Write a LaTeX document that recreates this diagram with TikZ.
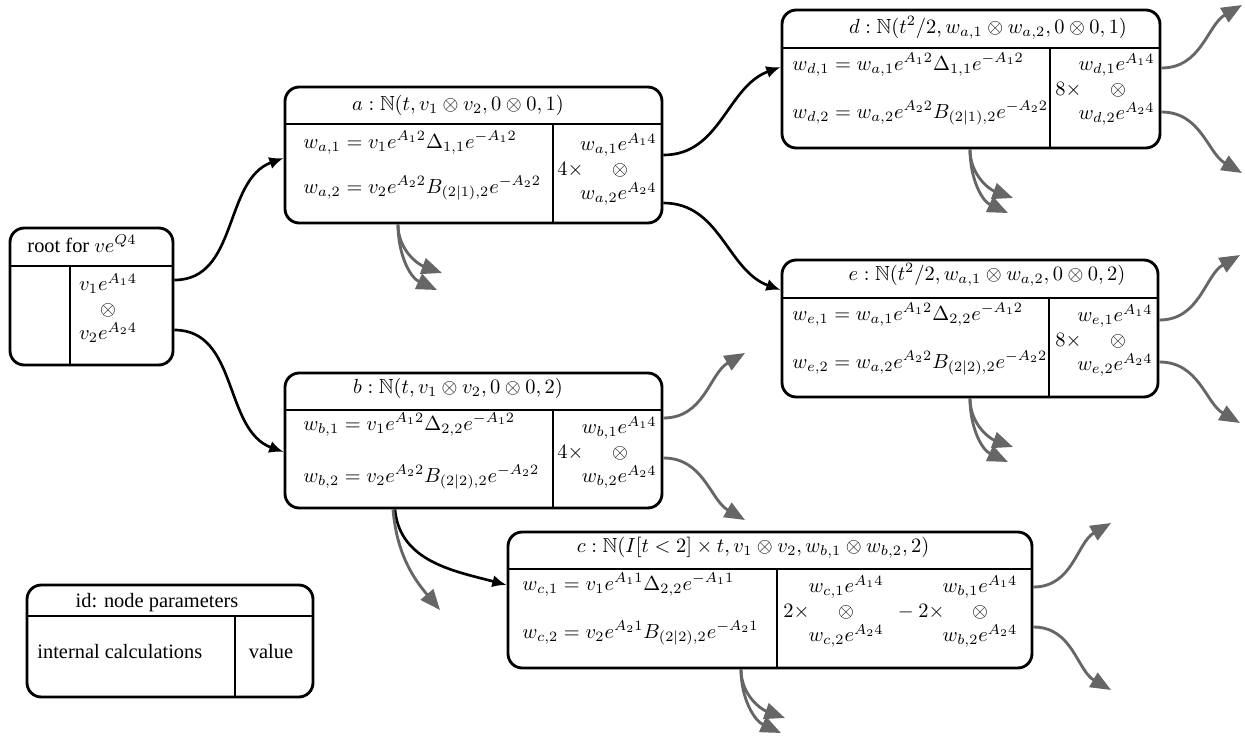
\documentclass[tikz,border=0pt]{standalone}
\usepackage[no-math]{fontspec}
\setmainfont{Liberation Serif}
\usepackage{amssymb}
\usetikzlibrary{arrows.meta,fit,calc}
\begin{document}
\begin{tikzpicture}[x=0.49pt,y=-0.49pt,
  box/.style={draw, line width=1.4pt, rounded corners=7pt, inner sep=0pt},
  div/.style={line width=0.5pt},
  txt/.style={inner sep=0pt, font=\fontsize{10}{12}\selectfont},
  tb/.style={txt, anchor=base},
  tbw/.style={txt, anchor=base west},
  tbe/.style={txt, anchor=base east},
  link/.style={line width=1.3pt, -{Latex[length=7pt,width=6pt]}},
  sublink/.style={line width=1.4pt, draw=black!60, -{Triangle[length=10pt,width=8pt]}, color=black!60}
]
\useasboundingbox (0,0) rectangle (1245,740);

% ---------- root ----------
\node[box, fit={(10,228)(173,365)}] (root) {};
\draw[div] (root.west |- 0,266) -- (root.east |- 0,266);
\draw[div] (70,266) -- (root.south -| 70,0);
\node[tb] (roott) at (82,252) {root for $ve^{Q4}$};
\node[tb] (rootv1) at (108,290.5) {$v_1e^{A_14}$};
\node[tb] (rootvo) at (108,315) {$\otimes$};
\node[tb] (rootv2) at (108,339.5) {$v_2e^{A_24}$};

% ---------- a ----------
\node[box, fit={(285,87)(662,223)}] (a) {};
\draw[div] (a.west |- 0,124) -- (a.east |- 0,124);
\draw[div] (553,124) -- (a.south -| 553,0);
\node[tb] (at) at (458,110) {$a:\mathbb{N}(t,v_1\otimes v_2,0\otimes 0,1)$};
\node[tbw] (ar1) at (303,148) {$w_{a,1}=v_1e^{A_12}\Delta_{1,1}e^{-A_12}$};
\node[tbw] (ar2) at (303,193) {$w_{a,2}=v_2e^{A_22}B_{(2|1),2}e^{-A_22}$};
\node[tbw] (ak) at (557,175) {$4\times$};
\node[tbe] (av1) at (657,150.5) {$w_{a,1}e^{A_14}$};
\node[tb] (avo) at (620,175) {$\otimes$};
\node[tbe] (av2) at (657,199.5) {$w_{a,2}e^{A_24}$};

% ---------- b ----------
\node[box, fit={(285,373)(662,508)}] (b) {};
\draw[div] (b.west |- 0,410) -- (b.east |- 0,410);
\draw[div] (553,410) -- (b.south -| 553,0);
\node[tb] (bt) at (458,393) {$b:\mathbb{N}(t,v_1\otimes v_2,0\otimes 0,2)$};
\node[tbw] (br1) at (303,430) {$w_{b,1}=v_1e^{A_12}\Delta_{2,2}e^{-A_12}$};
\node[tbw] (br2) at (303,482) {$w_{b,2}=v_2e^{A_22}B_{(2|2),2}e^{-A_22}$};
\node[tbw] (bk) at (557,458) {$4\times$};
\node[tbe] (bv1) at (657,433.5) {$w_{b,1}e^{A_14}$};
\node[tb] (bvo) at (620,458) {$\otimes$};
\node[tbe] (bv2) at (657,482.5) {$w_{b,2}e^{A_24}$};

% ---------- d ----------
\node[box, fit={(782,10)(1160,148)}] (d) {};
\draw[div] (d.west |- 0,48) -- (d.east |- 0,48);
\draw[div] (1050,48) -- (d.south -| 1050,0);
\node[tb] (dt) at (988,33) {$d:\mathbb{N}(t^2/2,w_{a,1}\otimes w_{a,2},0\otimes 0,1)$};
\node[tbw] (dr1) at (792,70) {$w_{d,1}=w_{a,1}e^{A_12}\Delta_{1,1}e^{-A_12}$};
\node[tbw] (dr2) at (792,118) {$w_{d,2}=w_{a,2}e^{A_22}B_{(2|1),2}e^{-A_22}$};
\node[tbw] (dk) at (1055,95) {$8\times$};
\node[tbe] (dv1) at (1155,70.5) {$w_{d,1}e^{A_14}$};
\node[tb] (dvo) at (1118,95) {$\otimes$};
\node[tbe] (dv2) at (1155,119.5) {$w_{d,2}e^{A_24}$};

% ---------- e ----------
\node[box, fit={(782,260)(1158,397)}] (e) {};
\draw[div] (e.west |- 0,298) -- (e.east |- 0,298);
\draw[div] (1049,298) -- (e.south -| 1049,0);
\node[tb] (et) at (987,280) {$e:\mathbb{N}(t^2/2,w_{a,1}\otimes w_{a,2},0\otimes 0,2)$};
\node[tbw] (er1) at (792,320) {$w_{e,1}=w_{a,1}e^{A_12}\Delta_{2,2}e^{-A_12}$};
\node[tbw] (er2) at (792,368) {$w_{e,2}=w_{a,2}e^{A_22}B_{(2|2),2}e^{-A_22}$};
\node[tbw] (ek) at (1055,346) {$8\times$};
\node[tbe] (ev1) at (1153,321.5) {$w_{e,1}e^{A_14}$};
\node[tb] (evo) at (1118,346) {$\otimes$};
\node[tbe] (ev2) at (1153,370.5) {$w_{e,2}e^{A_24}$};

% ---------- c ----------
\node[box, fit={(508,532)(1032,668)}] (c) {};
\draw[div] (c.west |- 0,569) -- (c.east |- 0,569);
\draw[div] (777,569) -- (c.south -| 777,0);
\node[tb] (ct) at (753,552) {$c:\mathbb{N}(I[t<2]\times t,v_1\otimes v_2,w_{b,1}\otimes w_{b,2},2)$};
\node[tbw] (cr1) at (522,590) {$w_{c,1}=v_1e^{A_11}\Delta_{2,2}e^{-A_11}$};
\node[tbw] (cr2) at (522,638) {$w_{c,2}=v_2e^{A_21}B_{(2|2),2}e^{-A_21}$};
\node[tbw] (ck1) at (783,617) {$2\times$};
\node[tb] (cv1) at (846,592.5) {$w_{c,1}e^{A_14}$};
\node[tb] (cvo) at (846,617) {$\otimes$};
\node[tb] (cv2) at (846,641.5) {$w_{c,2}e^{A_24}$};
\node[tbw] (ck2) at (893,617) {${}-2\times$};
\node[tb] (cw1) at (980,592.5) {$w_{b,1}e^{A_14}$};
\node[tb] (cwo) at (980,617) {$\otimes$};
\node[tb] (cw2) at (980,641.5) {$w_{b,2}e^{A_24}$};

% ---------- legend ----------
\node[box, fit={(27,585)(313,697)}] (leg) {};
\draw[div] (leg.west |- 0,616) -- (leg.east |- 0,616);
\draw[div] (235,616) -- (leg.south -| 235,0);
\node[tb] (legt) at (157,607) {id: node parameters};
\node[tbw] (legc) at (37,658) {internal calculations};
\node[tb] (legv) at (271,658) {value};

% ---------- black connectors ----------
\draw[link] (root.east |- 0,280) to[out=0,in=200] (a.west |- 0,158);
\draw[link] (root.east |- 0,330) to[out=0,in=160] (b.west |- 0,452);
\draw[link] (a.east |- 0,155) to[out=0,in=200] (d.west |- 0,67);
\draw[link] (a.east |- 0,203) to[out=0,in=160] (e.west |- 0,290);
\draw[link] (b.south -| 395,0) to[out=-85,in=165] (c.west |- 0,585);

% ---------- free ends ----------
\coordinate (a-s1) at (442,273);
\coordinate (a-s2) at (437,290);
\coordinate (b-r1) at (745,353);
\coordinate (b-r2) at (745,520);
\coordinate (b-s1) at (440,610);
\coordinate (d-r1) at (1242,5);
\coordinate (d-r2) at (1242,173);
\coordinate (d-s1) at (1013,198);
\coordinate (d-s2) at (1008,213);
\coordinate (e-r1) at (1240,255);
\coordinate (e-r2) at (1240,423);
\coordinate (e-s1) at (1013,447);
\coordinate (e-s2) at (1008,462);
\coordinate (c-r1) at (1111,523);
\coordinate (c-r2) at (1111,690);
\coordinate (c-s1) at (785,718);
\coordinate (c-s2) at (781,733);

% ---------- grey connectors ----------
\draw[sublink] (a.south -| 398,0) to[out=-90,in=160] (a-s1);
\draw[sublink] (a.south -| 398,0) to[out=-90,in=155] (a-s2);
\draw[sublink] (b.east |- 0,418) to[out=0,in=210] (b-r1);
\draw[sublink] (b.east |- 0,458) to[out=0,in=150] (b-r2);
\draw[sublink] (b.south -| 393,0) to[out=-85,in=130] (b-s1);
\draw[sublink] (d.east |- 0,68) to[out=0,in=210] (d-r1);
\draw[sublink] (d.east |- 0,112) to[out=0,in=150] (d-r2);
\draw[sublink] (d.south -| 970,0) to[out=-90,in=160] (d-s1);
\draw[sublink] (d.south -| 970,0) to[out=-90,in=155] (d-s2);
\draw[sublink] (e.east |- 0,320) to[out=0,in=210] (e-r1);
\draw[sublink] (e.east |- 0,362) to[out=0,in=150] (e-r2);
\draw[sublink] (e.south -| 970,0) to[out=-90,in=160] (e-s1);
\draw[sublink] (e.south -| 970,0) to[out=-90,in=155] (e-s2);
\draw[sublink] (c.east |- 0,587) to[out=0,in=210] (c-r1);
\draw[sublink] (c.east |- 0,627) to[out=0,in=150] (c-r2);
\draw[sublink] (c.south -| 741,0) to[out=-90,in=160] (c-s1);
\draw[sublink] (c.south -| 741,0) to[out=-90,in=155] (c-s2);
\end{tikzpicture}
\end{document}
